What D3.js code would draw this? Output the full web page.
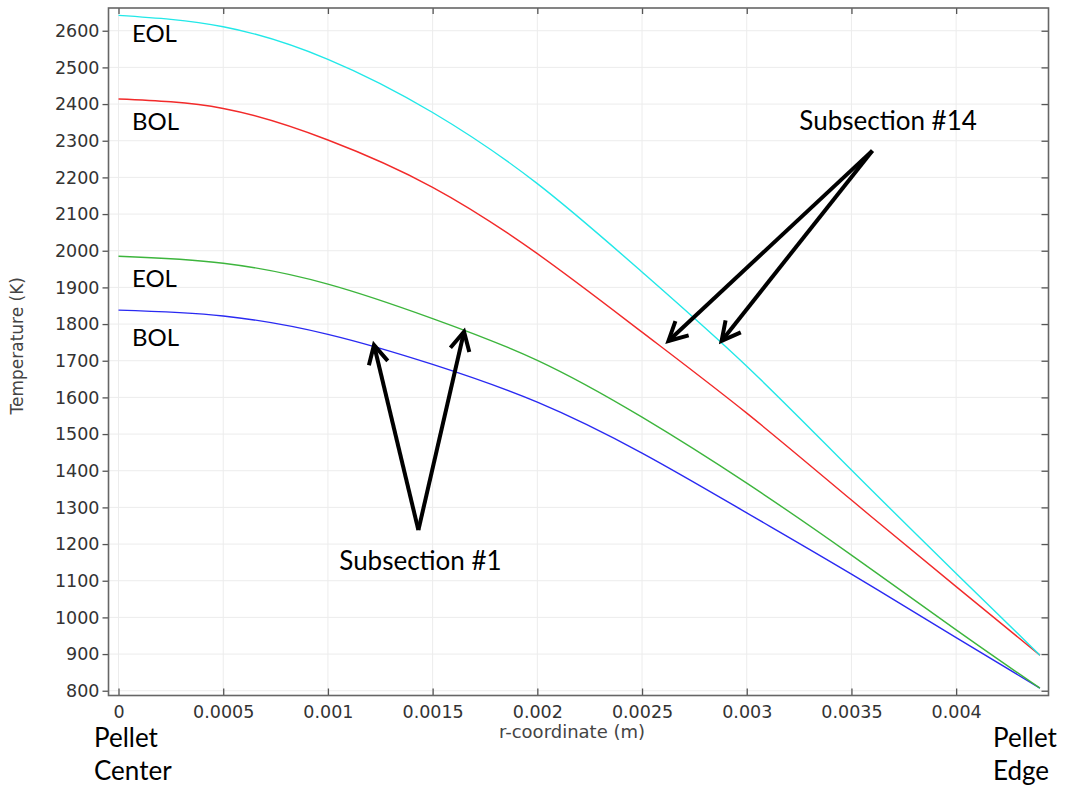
<!DOCTYPE html>
<html>
<head>
<meta charset="utf-8">
<script src="https://cdn.jsdelivr.net/npm/d3@7"></script>
<style>
  html, body { margin: 0; padding: 0; background: #fff; }
  svg { display: block; }
</style>
</head>
<body>
<svg id="chart" width="1065" height="787"></svg>
<script>
// Radial positions across the fuel pellet (m)
const radius = [0, 0.0005, 0.001, 0.0015, 0.002, 0.0025, 0.003, 0.0035, 0.004, 0.0044];

// Temperature profiles (K)
const bolSub1  = [1838, 1822, 1772, 1690, 1587, 1448, 1285, 1118, 945, 807];
const eolSub1  = [1985, 1966, 1909, 1815, 1701, 1546, 1366, 1170, 966, 807];
const bolSub14 = [2414, 2388, 2302, 2173, 1992, 1778, 1557, 1320, 1084, 897];
const eolSub14 = [2642, 2611, 2522, 2377, 2183, 1942, 1685, 1402, 1120, 897];

const seriesNames  = ["BOL #1", "EOL #1", "BOL #14", "EOL #14"];
const seriesValues = [bolSub1, eolSub1, bolSub14, eolSub14];
const seriesColors = ["#2a2af2", "#3db53d", "#f22a2a", "#22e8e8"];

// Axis ticks
const xTicks = [0, 0.0005, 0.001, 0.0015, 0.002, 0.0025, 0.003, 0.0035, 0.004];
const xTickLabels = ["0", "0.0005", "0.001", "0.0015", "0.002", "0.0025", "0.003", "0.0035", "0.004"];
const yTicks = d3.range(800, 2601, 100);

// Curve labels (baseline position in data units)
const curveLabels = [
  { text: "EOL", r: 0.0000640, t: 2569 },
  { text: "BOL", r: 0.0000640, t: 2329 },
  { text: "EOL", r: 0.0000640, t: 1902 },
  { text: "BOL", r: 0.0000640, t: 1740 }
];

// Callout arrows (data units)
const callouts = [
  { text: "Subsection #1", base: [0.001432, 1238], tips: [[0.00122, 1743], [0.00165, 1779]],
    labelR: 0.001442, labelT: 1129 },
  { text: "Subsection #14", base: [0.0036, 2273], tips: [[0.002626, 1754], [0.00288, 1754]],
    labelR: 0.003675, labelT: 2329 }
];

const svg = d3.select("#chart");
const plotLeft = 108.5, plotRight = 1048.5, plotTop = 8, plotBottom = 695.5;

const x = d3.scaleLinear().domain([-0.0000478, 0.004441]).range([plotLeft, plotRight]);
const y = d3.scaleLinear().domain([787, 2662]).range([plotBottom, plotTop]);

// Grid
const grid = svg.append("g").attr("stroke", "#ececec").attr("stroke-width", 1);
grid.selectAll("line.gx").data(xTicks).join("line").attr("class", "gx")
  .attr("x1", d => x(d)).attr("x2", d => x(d)).attr("y1", plotTop).attr("y2", plotBottom);
grid.selectAll("line.gy").data(yTicks).join("line").attr("class", "gy")
  .attr("y1", d => y(d)).attr("y2", d => y(d)).attr("x1", plotLeft).attr("x2", plotRight);

// Axes: left ticks outward, others inward
const tickFont = "DejaVu Sans, sans-serif";
const axisColor = "#555";

const yAxis = svg.append("g").attr("transform", `translate(${plotLeft},0)`)
  .call(d3.axisLeft(y).tickValues(yTicks).tickSize(6).tickPadding(3).tickFormat(d3.format("d")));
const xAxis = svg.append("g").attr("transform", `translate(0,${plotBottom})`)
  .call(d3.axisBottom(x).tickValues(xTicks).tickSizeInner(-7).tickSizeOuter(0).tickPadding(10)
    .tickFormat((d, i) => xTickLabels[i]));
const xTop = svg.append("g").attr("transform", `translate(0,${plotTop})`)
  .call(d3.axisTop(x).tickValues(xTicks).tickSizeInner(-6).tickSizeOuter(0).tickFormat(""));
const yRight = svg.append("g").attr("transform", `translate(${plotRight},0)`)
  .call(d3.axisRight(y).tickValues(yTicks).tickSizeInner(-7).tickSizeOuter(0).tickFormat(""));

[yAxis, xAxis, xTop, yRight].forEach(g => {
  g.select(".domain").remove();
  g.selectAll(".tick line").attr("stroke", axisColor).attr("stroke-width", 1.3);
  g.selectAll("text").attr("fill", "#333").style("font-family", tickFont).style("font-size", "17.5px");
});
xAxis.selectAll(".tick text").attr("dy", "0.71em");

// Frame
svg.append("rect")
  .attr("x", plotLeft).attr("y", plotTop)
  .attr("width", plotRight - plotLeft).attr("height", plotBottom - plotTop)
  .attr("fill", "none").attr("stroke", "#666").attr("stroke-width", 1.6);

// Axis titles
svg.append("text")
  .attr("transform", `translate(23,${(plotTop + plotBottom) / 2 - 6}) rotate(-90)`)
  .attr("text-anchor", "middle")
  .attr("fill", "#444").style("font-family", tickFont).style("font-size", "17px")
  .text("Temperature (K)");
svg.append("text")
  .attr("x", 572).attr("y", 738)
  .attr("text-anchor", "middle")
  .attr("fill", "#444").style("font-family", tickFont).style("font-size", "18px")
  .text("r-coordinate (m)");

// Temperature profiles
const line = d3.line().x(d => x(d[0])).y(d => y(d[1])).curve(d3.curveNatural);
svg.append("g").selectAll("path").data(seriesValues).join("path")
  .attr("d", vals => line(radius.map((r, i) => [r, vals[i]])))
  .attr("fill", "none")
  .attr("stroke", (d, i) => seriesColors[i])
  .attr("stroke-width", 1.4)
  .append("title").text((d, i) => seriesNames[i]);

// Annotation text
const noteFont = "Lato, 'Open Sans', sans-serif";
svg.append("g").selectAll("text").data(curveLabels).join("text")
  .attr("x", d => x(d.r)).attr("y", d => y(d.t))
  .style("font-family", noteFont).style("font-size", "24px").attr("fill", "#000")
  .text(d => d.text);

// Callout arrows
const arrows = svg.append("g").attr("stroke", "#000").attr("stroke-width", 4)
  .attr("fill", "none").attr("stroke-linecap", "butt").attr("stroke-linejoin", "miter");
callouts.forEach(c => {
  const bx = x(c.base[0]), by = y(c.base[1]);
  c.tips.forEach(t => {
    const tx = x(t[0]), ty = y(t[1]);
    arrows.append("line").attr("x1", bx).attr("y1", by).attr("x2", tx).attr("y2", ty);
    const ang = Math.atan2(by - ty, bx - tx);
    const len = 21, spread = 0.48;
    const p1 = [tx + len * Math.cos(ang + spread), ty + len * Math.sin(ang + spread)];
    const p2 = [tx + len * Math.cos(ang - spread), ty + len * Math.sin(ang - spread)];
    arrows.append("path").attr("d", `M${p1[0]},${p1[1]}L${tx},${ty}L${p2[0]},${p2[1]}`);
  });
  svg.append("text")
    .attr("x", x(c.labelR)).attr("y", y(c.labelT))
    .attr("text-anchor", "middle")
    .style("font-family", noteFont).style("font-size", "26px").attr("fill", "#000")
    .text(c.text);
});

// Pellet position labels
const pelletLabels = [
  { lines: ["Pellet", "Center"], x: 94 },
  { lines: ["Pellet", "Edge"], x: 993 }
];
pelletLabels.forEach(p => {
  p.lines.forEach((s, i) => {
    svg.append("text").attr("x", p.x).attr("y", 747 + i * 33)
      .style("font-family", noteFont).style("font-size", "26px").attr("fill", "#000")
      .text(s);
  });
});
</script>
</body>
</html>
